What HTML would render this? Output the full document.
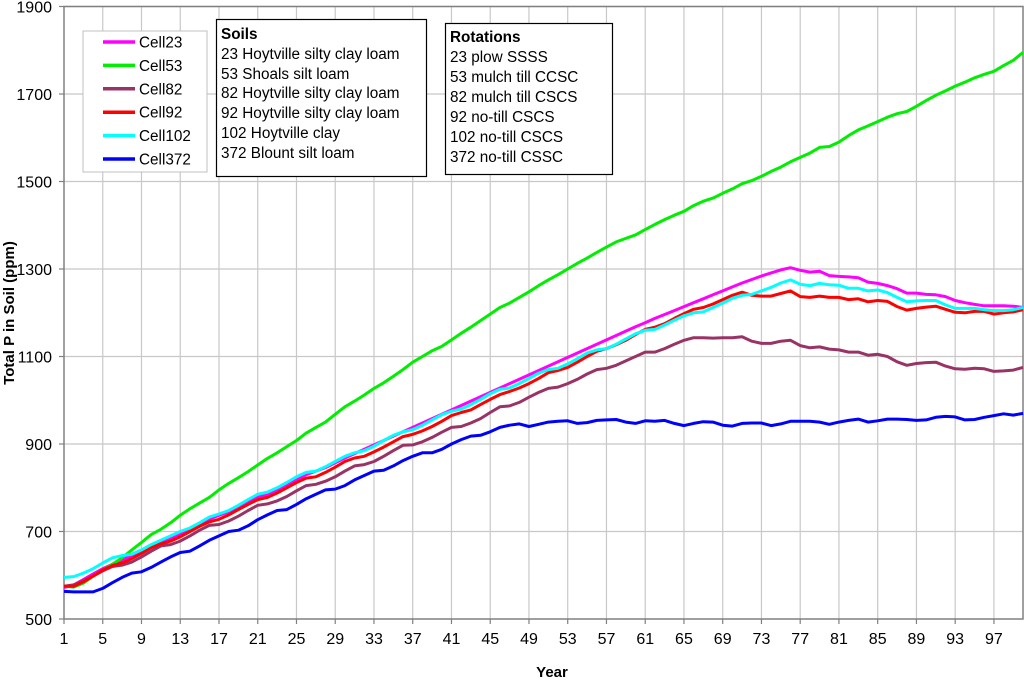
<!DOCTYPE html>
<html><head><meta charset="utf-8"><style>
html,body{margin:0;padding:0;background:#fff;}
svg{display:block;font-family:"Liberation Sans",Arial,sans-serif;}
</style></head><body>
<svg id="chart" width="1024" height="681" viewBox="0 0 1024 681">
<g id="grid"></g>
<g id="axes"></g>
<g id="series"></g>
<text x="14" y="313" transform="rotate(-90 14 313)" text-anchor="middle" font-size="15" font-weight="bold">Total P in Soil (ppm)</text>
<text x="552" y="677" text-anchor="middle" font-size="15" font-weight="bold">Year</text>
<g>
<rect x="83" y="31" width="124" height="141" fill="#fff" stroke="#c0c0c0" stroke-width="1"/>
<g id="legendItems"></g>
</g>
<g font-size="15.3">
<rect x="216.5" y="19.5" width="210" height="157" fill="#fff" stroke="#000" stroke-width="1.2"/>
<text x="221" y="39" font-weight="bold">Soils</text>
<text x="221" y="59">23 Hoytville silty clay loam</text>
<text x="221" y="79">53 Shoals silt loam</text>
<text x="221" y="98">82 Hoytville silty clay loam</text>
<text x="221" y="118">92 Hoytville silty clay loam</text>
<text x="221" y="138">102 Hoytville clay</text>
<text x="221" y="158">372 Blount silt loam</text>
</g>
<g font-size="15.3">
<rect x="445.5" y="23.5" width="167" height="151" fill="#fff" stroke="#000" stroke-width="1.2"/>
<text x="450" y="42" font-weight="bold">Rotations</text>
<text x="450" y="62">23 plow SSSS</text>
<text x="450" y="82">53 mulch till CCSC</text>
<text x="450" y="102">82 mulch till CSCS</text>
<text x="450" y="122">92 no-till CSCS</text>
<text x="450" y="142">102 no-till CSCS</text>
<text x="450" y="162">372 no-till CSSC</text>
</g>
</svg>
<script>
const yTicks=[500,700,900,1100,1300,1500,1700,1900];
const xTickYears=[1,5,9,13,17,21,25,29,33,37,41,45,49,53,57,61,65,69,73,77,81,85,89,93,97];
const seriesNames=["Cell23","Cell53","Cell82","Cell92","Cell102","Cell372"];
const seriesColors=["#ff00ff","#00ee00","#993366","#ff0000","#00ffff","#0000ff"];
const cell23=[572,578,590,603,615,625,635,645,655,665,675,683,693,705,715,728,737,745,755,767,778,785,795,807,818,830,838,846,857,868,878,888,898,908,918,928,938,948,958,968,978,988,998,1008,1018,1028,1038,1048,1058,1068,1078,1088,1098,1108,1118,1128,1138,1148,1158,1168,1177,1187,1196,1205,1214,1223,1232,1241,1250,1259,1268,1276,1284,1291,1298,1303,1297,1293,1295,1285,1283,1282,1280,1270,1267,1262,1255,1245,1245,1242,1241,1237,1228,1223,1219,1216,1216,1216,1215,1212];
const cell53=[575,573,582,598,612,625,640,658,675,693,705,720,737,752,765,778,795,810,823,837,852,867,880,894,908,925,938,950,968,985,998,1012,1027,1040,1055,1070,1087,1100,1113,1123,1138,1153,1167,1182,1197,1212,1222,1235,1248,1262,1275,1287,1300,1313,1325,1338,1350,1362,1370,1378,1390,1402,1413,1423,1432,1445,1455,1462,1473,1483,1495,1502,1512,1523,1533,1545,1555,1565,1578,1580,1590,1605,1618,1627,1637,1647,1655,1660,1672,1685,1697,1707,1718,1727,1737,1745,1752,1765,1777,1795];
const cell82=[575,578,587,598,610,620,623,630,642,655,667,670,678,690,703,714,716,724,735,748,760,763,770,780,793,805,808,815,825,838,850,853,860,872,885,897,898,905,915,927,938,940,948,958,972,985,987,995,1007,1018,1027,1030,1038,1048,1060,1070,1073,1080,1090,1100,1110,1110,1118,1128,1137,1143,1143,1142,1143,1143,1145,1135,1130,1130,1135,1137,1125,1120,1122,1117,1115,1110,1110,1103,1105,1100,1088,1080,1084,1086,1087,1078,1072,1071,1073,1072,1066,1067,1069,1075];
const cell92=[575,575,585,598,612,622,628,638,650,663,672,678,688,700,712,722,728,738,750,762,773,778,788,800,812,822,825,835,847,860,868,872,882,893,905,917,922,930,940,952,965,972,978,990,1002,1013,1020,1028,1038,1050,1063,1068,1075,1087,1100,1112,1118,1127,1137,1150,1162,1167,1175,1187,1198,1208,1212,1220,1230,1240,1247,1240,1238,1238,1244,1250,1237,1235,1238,1235,1235,1230,1232,1225,1228,1226,1214,1206,1210,1213,1215,1208,1201,1200,1203,1203,1197,1200,1202,1207];
const cell102=[595,597,605,615,628,640,645,648,658,670,680,690,700,708,720,733,740,748,760,773,785,790,800,812,825,835,838,848,860,872,880,885,895,908,920,928,933,943,955,967,975,980,990,1002,1015,1025,1028,1038,1050,1062,1070,1073,1083,1095,1108,1115,1118,1128,1140,1152,1160,1162,1172,1183,1193,1200,1202,1212,1222,1233,1240,1242,1250,1258,1268,1275,1265,1262,1267,1264,1263,1256,1256,1250,1252,1246,1235,1225,1227,1228,1228,1218,1210,1210,1210,1207,1205,1205,1207,1212];
const cell372=[563,562,562,562,570,583,595,605,608,618,630,642,652,655,667,680,690,700,703,713,727,738,748,750,762,775,785,795,797,805,818,828,838,840,850,862,872,880,880,888,900,910,918,920,928,938,943,946,940,945,950,952,953,947,949,954,955,956,950,947,953,952,954,947,942,947,951,950,943,941,947,948,948,942,946,952,952,952,950,945,950,954,957,950,953,957,957,956,954,955,961,963,962,955,956,961,965,969,966,970];
const allSeries=[cell23,cell53,cell82,cell92,cell102,cell372];

const NS="http://www.w3.org/2000/svg";
const X0=64,X1=1023,Y0=619,Y1=6.5,YMIN=500,YMAX=1900,NYEARS=100;
function xScale(year){return X0+(year-1)*(X1-X0)/(NYEARS-1);}
function yScale(v){return Y0-(v-YMIN)*(Y0-Y1)/(YMAX-YMIN);}
function mk(tag,attrs,parent){const e=document.createElementNS(NS,tag);for(const k in attrs)e.setAttribute(k,attrs[k]);parent.appendChild(e);return e;}

const grid=document.getElementById('grid');
const axes=document.getElementById('axes');
yTicks.forEach(t=>{
  const y=yScale(t);
  if(t>YMIN){const l=mk('line',{x1:X0,x2:X1,y1:y,y2:y,stroke:'#c8c8c8','stroke-width':1.2},grid);
  
  }
  mk('line',{x1:X0-5,x2:X0,y1:y,y2:y,stroke:'#808080','stroke-width':1.2},axes);
  const tx=mk('text',{x:X0-12,y:y+6,'text-anchor':'end','font-size':16},axes);
  tx.textContent=t;
  
  
});
xTickYears.forEach(yr=>{
  const x=xScale(yr);
  if(yr>1){const l=mk('line',{x1:x,x2:x,y1:Y1,y2:Y0,stroke:'#c8c8c8','stroke-width':1.2},grid);
  
  }
  mk('line',{x1:x,x2:x,y1:Y0,y2:Y0+5,stroke:'#808080','stroke-width':1.2},axes);
  const tx=mk('text',{x:x,y:644,'text-anchor':'middle','font-size':16},axes);
  tx.textContent=yr;
  
  
});
mk('rect',{x:X0,y:Y1,width:X1-X0,height:Y0-Y1,fill:'none',stroke:'#808080','stroke-width':1.5},axes);

const sg=document.getElementById('series');
allSeries.forEach((vals,i)=>{
  const pts=vals.map((v,j)=>xScale(j+1).toFixed(1)+','+yScale(v).toFixed(1)).join(' ');
  const pl=mk('polyline',{points:pts,fill:'none',stroke:seriesColors[i],'stroke-width':3,'stroke-linejoin':'round'},sg);
  
  
});

const lg=document.getElementById('legendItems');
seriesNames.forEach((n,i)=>{
  const y=42+i*23.4;
  const g=mk('g',{},lg);
  
  
  mk('line',{x1:103,x2:135,y1:y,y2:y,stroke:seriesColors[i],'stroke-width':3.5},g);
  const t=mk('text',{x:139,y:y+5.5,'font-size':15.3},g);
  t.textContent=n;
});
</script>
</body></html>
